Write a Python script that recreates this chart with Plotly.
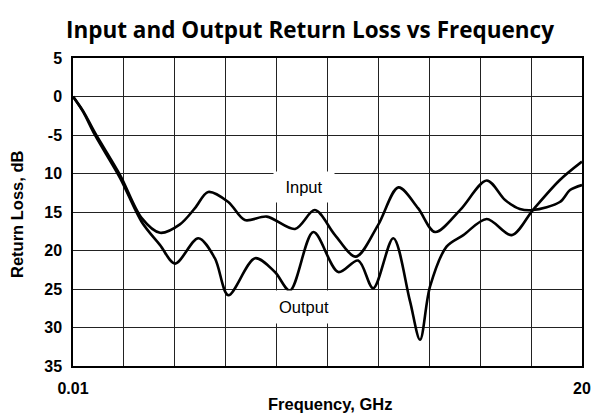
import plotly.graph_objects as go

# Data (frequency in GHz, return loss in dB)
input_freq = [0.01, 0.41, 0.87, 1.86, 2.71, 3.43, 4.21, 4.80, 5.32, 6.11, 6.76, 7.62,
              8.73, 9.51, 10.30, 11.12, 11.99, 12.79, 13.56, 14.23, 15.21, 16.26,
              16.98, 17.56, 18.07, 19.13, 19.53, 20.0]
input_rl = [0.0, -1.9, -4.7, -10.2, -15.8, -17.7, -16.6, -14.5, -12.4, -13.7, -16.05, -15.6,
            -17.2, -14.75, -18.0, -20.8, -16.7, -11.8, -14.5, -17.6, -14.75, -10.9,
            -13.45, -14.6, -14.75, -13.7, -12.15, -11.5]

output_freq = [0.01, 0.41, 0.87, 1.86, 2.71, 3.43, 4.02, 4.93, 5.58, 6.11, 7.16, 7.94,
               8.53, 9.45, 10.43, 11.21, 11.80, 12.59, 13.24, 13.64, 14.03, 14.68,
               15.34, 16.26, 17.24, 18.07, 19.13, 20.0]
output_rl = [0.0, -2.0, -5.0, -10.6, -16.3, -19.3, -21.7, -18.4, -21.0, -25.8, -21.0, -22.8,
             -25.2, -17.6, -22.8, -21.3, -24.9, -18.4, -26.5, -31.6, -24.7, -19.5,
             -18.0, -15.9, -18.0, -14.75, -10.85, -8.46]

x_grid = [0.01 + k * 1.999 for k in range(11)]
x_ticktext = ["0.01"] + [""] * 9 + ["20"]
y_ticks = [5, 0, -5, -10, -15, -20, -25, -30, -35]
y_ticktext = ["5", "0", "-5", "10", "15", "20", "25", "30", "35"]

fig = go.Figure()
for fx, fy, name in [(input_freq, input_rl, "Input"), (output_freq, output_rl, "Output")]:
    fig.add_trace(go.Scatter(x=fx, y=fy, mode="lines", name=name,
                             line=dict(color="black", width=2.6, shape="spline", smoothing=0.9),
                             showlegend=False))

fig.update_layout(
    width=593, height=413,
    margin=dict(l=73, r=11, t=58, b=47, autoexpand=False),
    paper_bgcolor="white", plot_bgcolor="white",
    title=dict(text="<b>Input and Output Return Loss vs Frequency</b>",
               font=dict(family="Open Sans", size=22.5, color="black"),
               x=(310 / 593), xanchor="center", y=1 - 30 / 413, yanchor="middle"),
    xaxis=dict(range=[0.01, 20], tickmode="array", tickvals=x_grid, ticktext=x_ticktext,
               showgrid=True, gridcolor="#222", gridwidth=1.4, zeroline=False,
               showline=True, linecolor="black", linewidth=1.5, mirror=True,
               ticks="", ticklabelstandoff=7, automargin=False,
               tickfont=dict(family="Liberation Sans", size=16, color="black", weight="bold")),
    yaxis=dict(range=[-35, 5], tickmode="array", tickvals=y_ticks, ticktext=y_ticktext,
               showgrid=True, gridcolor="#222", gridwidth=1.4, zeroline=False,
               showline=True, linecolor="black", linewidth=1.5, mirror=True,
               ticks="", ticklabelstandoff=6, automargin=False,
               tickfont=dict(family="Liberation Sans", size=16, color="black", weight="bold")),
    annotations=[
        dict(text="Input", x=9.08, y=-11.7, xref="x", yref="y", showarrow=False,
             font=dict(family="Liberation Sans", size=16.5, color="black"),
             bgcolor="white", width=58, height=28),
        dict(text="Output", x=9.08, y=-27.4, xref="x", yref="y", showarrow=False,
             font=dict(family="Liberation Sans", size=16.5, color="black"),
             bgcolor="white", width=62, height=30),
        dict(text="<b>Frequency, GHz</b>", x=(330 - 73) / 509, y=(366 - 404) / 308,
             xref="paper", yref="paper", showarrow=False, xanchor="center", yanchor="middle",
             font=dict(family="Liberation Sans", size=16.5, color="black")),
        dict(text="<b>Return Loss, dB</b>", x=(17 - 73) / 509, y=(366 - 214) / 308,
             xref="paper", yref="paper", showarrow=False, xanchor="center", yanchor="middle",
             textangle=-90,
             font=dict(family="Liberation Sans", size=16.5, color="black")),
    ],
)

fig.write_html("out.html", config={"displayModeBar": False},
               post_script="document.body.style.margin='0';")
